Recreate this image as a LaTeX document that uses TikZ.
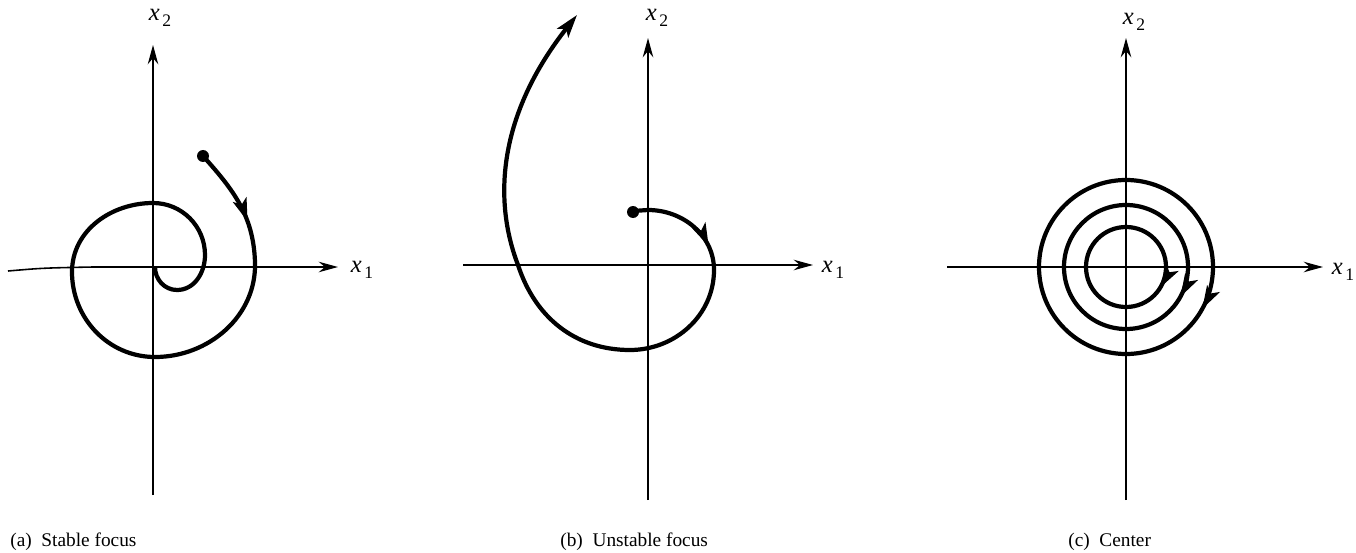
\documentclass[tikz,border=0pt]{standalone}
\usepackage{fontspec}
\setmainfont{Liberation Serif}
\usepackage{tikz}
\usetikzlibrary{arrows.meta,decorations.markings}
\newcommand{\xsub}[1]{\textit{x}\kern1.5pt\raisebox{-0.5ex}{\fontsize{10}{10}\selectfont #1}}

\begin{document}
\begin{tikzpicture}[x=0.02cm,y=0.02cm,
  ax/.style={line width=0.9pt,-{Stealth[length=11pt,width=6pt]}},
  traj/.style={line width=2.4pt,line join=round},
  midarr/.style={postaction={decorate,decoration={markings,
      mark=at position #1 with {\arrow{Stealth[length=13pt,width=8pt,inset=3pt]}}}}},
  lab/.style={font=\fontsize{14}{14}\selectfont,inner sep=0pt},
  captxt/.style={font=\fontsize{11}{11}\selectfont,anchor=base west,inner sep=0pt}]
  \useasboundingbox (0,0) rectangle (1356,552);
  % (a) stable focus
  \begin{scope}[shift={(153,285)}]
    \coordinate (oa) at (0,0);
    \draw[ax] (-145,-4) .. controls (-110,-1) .. (-60,0) -- (185,0);
    \draw[ax] (0,-228) -- (0,222);
    \node[lab] (a1) at (209,-3) {\xsub{1}};
    \node[lab] (a2) at (7,249) {\xsub{2}};
    \fill (50,111) circle (6);
    \draw[traj,midarr=0.115] (50,111) to[out=-48,in=92] (102,5)
      to[out=-88,in=0] (2,-90) to[out=180,in=-90] (-81,-5)
      to[out=90,in=180] (0,64) to[out=0,in=90] (52,12)
      to[out=-90,in=0] (24,-23) to[out=180,in=-90] (2,0);
  \end{scope}
  % (b) unstable focus
  \begin{scope}[shift={(648,287)}]
    \coordinate (ob) at (0,0);
    \draw[ax] (-185,0) -- (165,0);
    \draw[ax] (0,-235) -- (0,227);
    \node[lab] (b1) at (185,-5) {\xsub{1}};
    \node[lab] (b2) at (9,247) {\xsub{2}};
    \fill (-15,53) circle (6);
    \draw[traj,midarr=0.135,-{Stealth[length=13pt,width=8pt,inset=3pt]}]
      (-15,54) -- (0,55) to[out=0,in=90] (66,-5)
      to[out=-90,in=0] (-18,-85) to[out=180,in=-72] (-130,0)
      .. controls (-155,65) and (-150,150) .. (-71,250);
  \end{scope}
  % (c) center
  \begin{scope}[shift={(1126,285)}]
    \coordinate (oc) at (0,0);
    \draw[ax] (-179,0) -- (197,0);
    \draw[ax] (0,-233) -- (0,229);
    \node[lab] (c1) at (217,-5) {\xsub{1}};
    \node[lab] (c2) at (8,245) {\xsub{2}};
    \foreach \r/\p in {40/0.085,62/0.08,87/0.08}
      \draw[traj,midarr=\p] (\r,0) arc[start angle=0,end angle=-360,radius=\r];
  \end{scope}
  \node[captxt] (capa) at (10,6) {(a)\enspace Stable focus};
  \node[captxt] (capb) at (560,6) {(b)\enspace Unstable focus};
  \node[captxt] (capc) at (1068,6) {(c)\enspace Center};
\end{tikzpicture}
\end{document}
